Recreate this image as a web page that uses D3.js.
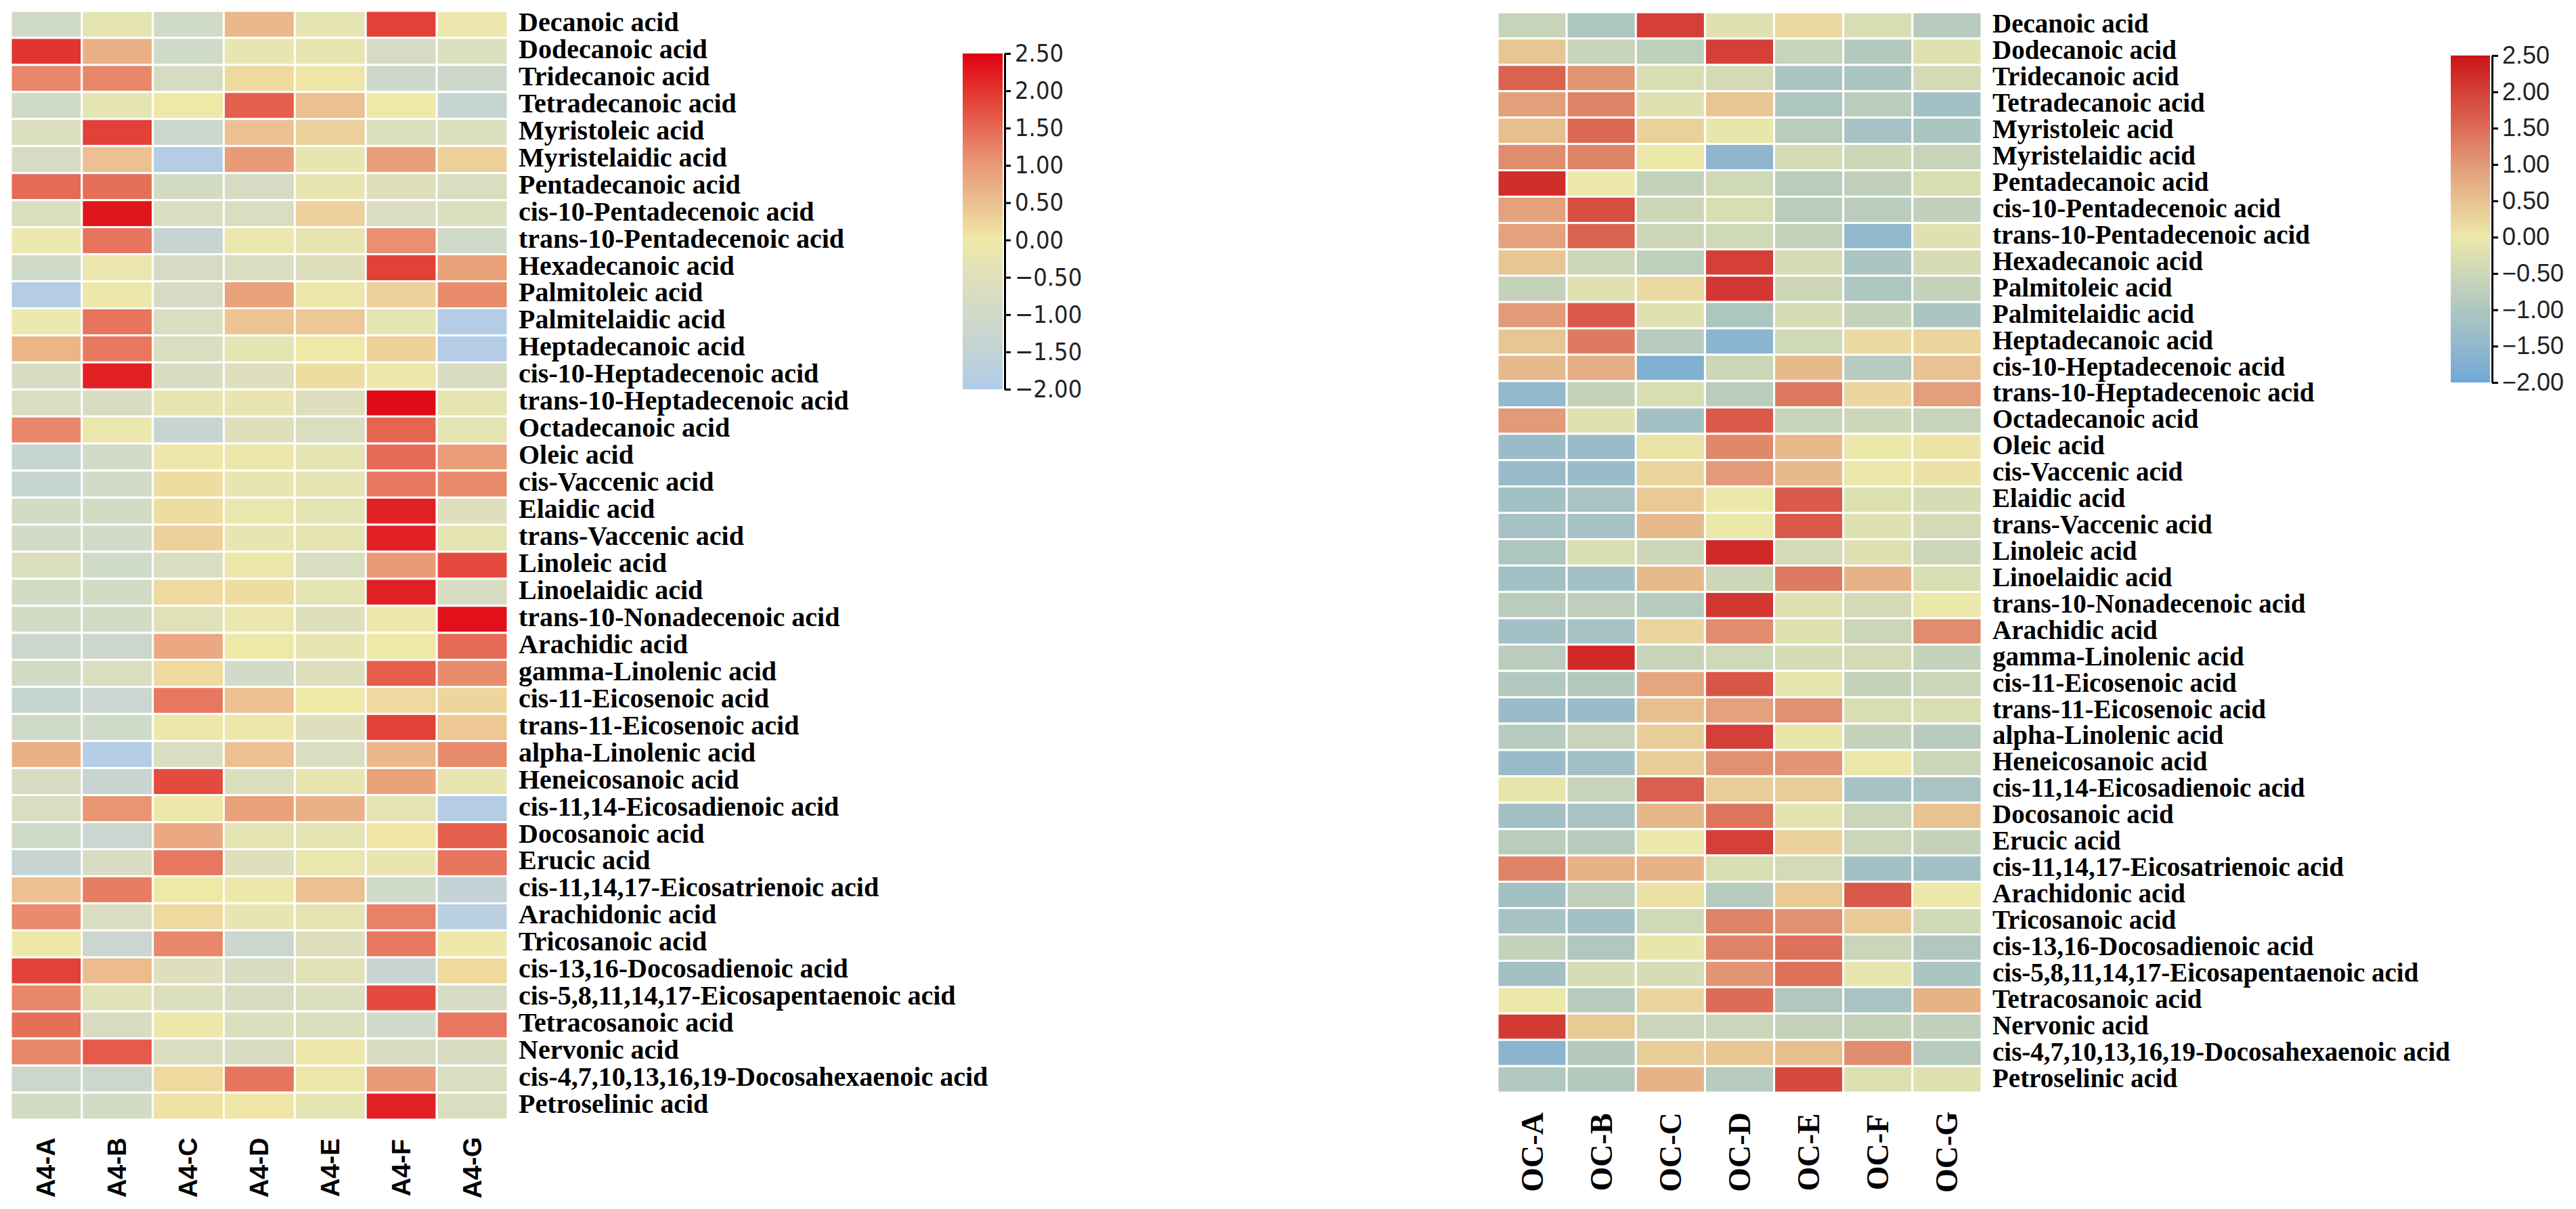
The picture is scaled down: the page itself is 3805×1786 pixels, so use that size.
<!DOCTYPE html>
<html>
<head>
<meta charset="utf-8">
<title>Fatty acid heatmaps</title>
<script src="https://d3js.org/d3.v7.min.js"></script>
<style>
  body { margin: 0; background: #fff; }
</style>
</head>
<body>
<script>
// row names (same order in both panels)
var acids = ["Decanoic acid", "Dodecanoic acid", "Tridecanoic acid", "Tetradecanoic acid",
  "Myristoleic acid", "Myristelaidic acid", "Pentadecanoic acid", "cis-10-Pentadecenoic acid",
  "trans-10-Pentadecenoic acid", "Hexadecanoic acid", "Palmitoleic acid", "Palmitelaidic acid",
  "Heptadecanoic acid", "cis-10-Heptadecenoic acid", "trans-10-Heptadecenoic acid", "Octadecanoic acid",
  "Oleic acid", "cis-Vaccenic acid", "Elaidic acid", "trans-Vaccenic acid", "Linoleic acid",
  "Linoelaidic acid", "trans-10-Nonadecenoic acid", "Arachidic acid", "gamma-Linolenic acid",
  "cis-11-Eicosenoic acid", "trans-11-Eicosenoic acid", "alpha-Linolenic acid", "Heneicosanoic acid",
  "cis-11,14-Eicosadienoic acid", "Docosanoic acid", "Erucic acid", "cis-11,14,17-Eicosatrienoic acid",
  "Arachidonic acid", "Tricosanoic acid", "cis-13,16-Docosadienoic acid",
  "cis-5,8,11,14,17-Eicosapentaenoic acid", "Tetracosanoic acid", "Nervonic acid",
  "cis-4,7,10,13,16,19-Docosahexaenoic acid", "Petroselinic acid"]

var a4Samples = ["A4-A", "A4-B", "A4-C", "A4-D", "A4-E", "A4-F", "A4-G"]
var ocSamples = ["OC-A", "OC-B", "OC-C", "OC-D", "OC-E", "OC-F", "OC-G"]

// z-scores, one row per acid, one column per sample
var a4Values = [
  [-1.0, -0.3, -1.0, 0.6, -0.3, 1.9, -0.1],
  [2.0, 0.7, -1.0, -0.2, -0.2, -0.8, -0.6],
  [1.2, 1.2, -0.8, 0.2, 0.05, -1.1, -1.1],
  [-1.0, -0.3, 0.0, 1.6, 0.5, 0.0, -1.4],
  [-0.6, 1.9, -1.2, 0.5, 0.3, -0.6, -0.6],
  [-0.8, 0.5, -1.9, 1.0, -0.2, 0.95, 0.3],
  [1.5, 1.45, -0.9, -0.8, -0.2, -0.5, -0.7],
  [-0.6, 2.3, -0.7, -0.7, 0.3, -0.7, -0.6],
  [-0.1, 1.4, -1.4, -0.15, -0.2, 1.1, -1.0],
  [-1.0, -0.15, -0.8, -0.7, -0.55, 1.9, 0.9],
  [-1.9, -0.05, -0.8, 0.9, -0.05, 0.3, 1.15],
  [-0.1, 1.4, -0.7, 0.45, 0.4, -0.3, -1.9],
  [0.65, 1.35, -0.7, -0.3, 0.0, 0.3, -1.9],
  [-0.75, 2.2, -0.75, -0.55, 0.15, -0.05, -0.75],
  [-0.7, -0.75, -0.2, -0.2, -0.55, 2.4, -0.3],
  [1.2, -0.1, -1.4, -0.55, -0.7, 1.55, -0.3],
  [-1.4, -0.95, -0.05, -0.05, -0.3, 1.5, 0.95],
  [-1.4, -0.95, 0.15, -0.2, -0.3, 1.35, 1.15],
  [-0.9, -0.9, 0.15, -0.15, -0.3, 2.2, -0.55],
  [-0.95, -0.95, 0.3, -0.2, -0.3, 2.2, -0.3],
  [-0.6, -1.0, -0.7, -0.05, -0.7, 1.0, 1.8],
  [-0.9, -0.9, 0.2, 0.15, -0.3, 2.2, -0.75],
  [-0.9, -0.9, -0.45, -0.1, -0.55, -0.05, 2.35],
  [-1.2, -1.2, 0.8, 0.0, -0.2, 0.0, 1.5],
  [-0.9, -0.7, 0.2, -0.95, -0.55, 1.6, 1.15],
  [-1.4, -1.25, 1.35, 0.5, 0.0, 0.2, 0.25],
  [-1.0, -1.0, -0.05, -0.05, -0.55, 1.9, 0.4],
  [0.7, -1.9, -0.7, 0.5, -0.7, 0.6, 1.15],
  [-0.75, -1.35, 1.8, -0.6, -0.2, 0.9, -0.2],
  [-0.7, 1.05, -0.05, 0.9, 0.7, -0.35, -1.9],
  [-1.0, -1.25, 0.8, -0.3, -0.3, 0.05, 1.6],
  [-1.4, -0.75, 1.35, -0.55, -0.15, -0.2, 1.4],
  [0.5, 1.3, 0.0, -0.05, 0.5, -1.0, -1.5],
  [1.15, -0.7, 0.2, -0.2, -0.3, 1.25, -1.75],
  [-0.05, -1.25, 1.2, -1.25, -0.55, 1.35, -0.05],
  [1.9, 0.55, -0.55, -0.75, -0.4, -1.35, 0.2],
  [1.2, -0.4, -0.6, -0.75, -0.6, 1.8, -0.8],
  [1.45, -0.75, -0.05, -0.6, -0.6, -1.0, 1.35],
  [1.2, 1.65, -0.7, -0.75, -0.05, -0.75, -0.75],
  [-1.2, -1.2, 0.2, 1.4, -0.05, 1.0, -0.7],
  [-0.9, -0.9, 0.1, 0.05, -0.3, 2.2, -0.7]
]

var ocValues = [
  [-0.6, -1.0, 2.0, -0.2, 0.2, -0.3, -0.85],
  [0.45, -0.6, -0.75, 2.0, -0.6, -0.9, -0.2],
  [1.6, 1.05, -0.3, -0.4, -1.05, -1.05, -0.4],
  [0.95, 1.25, -0.2, 0.45, -1.0, -0.8, -1.2],
  [0.55, 1.55, 0.3, -0.05, -0.8, -1.15, -1.05],
  [1.15, 1.25, 0.0, -1.55, -0.4, -0.5, -0.6],
  [2.2, 0.0, -0.65, -0.45, -0.8, -0.7, -0.3],
  [0.9, 1.85, -0.5, -0.3, -0.8, -0.8, -0.7],
  [0.9, 1.6, -0.5, -0.45, -0.65, -1.5, -0.2],
  [0.45, -0.5, -0.75, 2.0, -0.35, -1.05, -0.35],
  [-0.65, -0.2, 0.2, 2.1, -0.5, -1.0, -0.65],
  [1.0, 1.7, -0.2, -1.0, -0.35, -0.65, -1.05],
  [0.45, 1.35, -0.85, -1.6, -0.45, 0.2, 0.25],
  [0.6, 0.75, -1.75, -0.5, 0.6, -0.85, 0.5],
  [-1.5, -0.65, -0.3, -0.8, 1.35, 0.25, 0.95],
  [1.0, -0.2, -1.2, 1.7, -0.6, -0.5, -0.6],
  [-1.35, -1.35, 0.05, 1.2, 0.6, 0.0, 0.05],
  [-1.4, -1.35, 0.25, 1.0, 0.6, 0.0, 0.1],
  [-1.2, -1.1, 0.4, 0.0, 1.7, -0.25, -0.35],
  [-1.15, -1.15, 0.6, 0.0, 1.7, -0.2, -0.4],
  [-1.0, -0.3, -0.5, 2.25, -0.4, -0.25, -0.5],
  [-1.2, -1.2, 0.6, -0.5, 1.35, 0.7, -0.3],
  [-0.8, -0.75, -0.85, 2.1, -0.25, -0.4, 0.0],
  [-1.2, -1.15, 0.25, 1.15, -0.2, -0.55, 1.15],
  [-0.8, 2.25, -0.6, -0.45, -0.35, -0.4, -0.65],
  [-0.95, -0.9, 0.85, 1.75, -0.1, -0.65, -0.55],
  [-1.35, -1.35, 0.55, 0.9, 1.1, -0.3, -0.3],
  [-0.85, -0.6, 0.35, 2.0, -0.05, -0.65, -0.85],
  [-1.35, -1.2, 0.35, 1.1, 1.05, 0.0, -0.55],
  [-0.05, -0.6, 1.65, 0.35, 0.35, -1.15, -1.1],
  [-1.2, -1.1, 0.65, 1.4, -0.15, -0.55, 0.5],
  [-0.8, -0.85, 0.0, 2.0, 0.3, -0.55, -0.65],
  [1.25, 0.7, 0.7, -0.3, -0.4, -1.2, -1.2],
  [-1.2, -0.7, 0.1, -0.85, 0.4, 1.7, 0.0],
  [-1.15, -1.2, -0.45, 1.25, 1.1, 0.4, -0.45],
  [-0.65, -0.95, -0.05, 1.25, 1.45, -0.55, -0.95],
  [-1.2, -0.35, -0.35, 1.05, 1.45, -0.1, -1.05],
  [0.0, -0.85, 0.25, 1.5, -0.95, -1.1, 0.7],
  [2.05, 0.4, -0.55, -0.55, -0.65, -0.65, -0.7],
  [-1.6, -0.9, 0.35, 0.45, 0.55, 1.15, -0.85],
  [-0.95, -0.9, 0.7, -0.85, 1.9, -0.25, -0.2]
]

// colour bar ticks
var legendTicks = [2.5, 2.0, 1.5, 1.0, 0.5, 0.0, -0.5, -1.0, -1.5, -2.0]
var colorStops = [-2, -1.5, -1, -0.5, 0, 0.5, 1, 1.5, 2, 2.5]

var width = 3805
var height = 1786

var svg = d3.select("body").append("svg")
  .attr("width", width)
  .attr("height", height)
  .style("background", "#fff")

// two panels, slightly different palettes
var panels = [
  {
    samples: a4Samples, values: a4Values,
    x0: 16, x1: 750, y0: 16, y1: 1654,
    labelX: 766, labelSize: 40, labelDy: 10,
    colFont: "'Liberation Sans', Arial, sans-serif", colSize: 38, colY: 1725,
    colors: ["#b0cce8", "#c3d2d5", "#d0dac8", "#dfe0bb", "#efe9a8", "#ecc090", "#e99a76", "#e66a55", "#e2352f", "#e00010"],
    bar: {x: 1422, w: 59, y0: 79, y1: 575},
    tickFont: "'DejaVu Sans Condensed', 'Liberation Sans Narrow', 'Liberation Sans', sans-serif", tickSize: 36
  },
  {
    samples: ocSamples, values: ocValues,
    x0: 2212, x1: 2927, y0: 18, y1: 1614,
    labelX: 2943, labelSize: 39, labelDy: 11,
    colFont: "'Liberation Serif', 'Times New Roman', serif", colSize: 46, colY: 1702,
    colors: ["#70a8d8", "#92b8cc", "#aec6c0", "#cdd7b8", "#ece8aa", "#e8c290", "#e29a78", "#dc6c56", "#d44038", "#cc1418"],
    bar: {x: 3620, w: 58, y0: 82, y1: 565},
    tickFont: "'Liberation Sans', Arial, sans-serif", tickSize: 36
  }
]

var defs = svg.append("defs")

panels.forEach(function(p, pi) {
  var x = d3.scaleBand().domain(p.samples).range([p.x0, p.x1])
  var y = d3.scaleBand().domain(acids).range([p.y0, p.y1])
  var color = d3.scaleLinear().domain(colorStops).range(p.colors).clamp(true)

  var cells = []
  acids.forEach(function(a, i) {
    p.samples.forEach(function(s, j) {
      cells.push({acid: a, sample: s, value: p.values[i][j]})
    })
  })

  var g = svg.append("g")

  g.selectAll("rect.cell")
    .data(cells)
    .enter()
    .append("rect")
      .attr("class", "cell")
      .attr("x", d => x(d.sample))
      .attr("y", d => y(d.acid))
      .attr("width", x.bandwidth())
      .attr("height", y.bandwidth())
      .attr("fill", d => color(d.value))
      .attr("stroke", "#fff")
      .attr("stroke-width", 3)

  // row labels
  g.selectAll("text.row")
    .data(acids)
    .enter()
    .append("text")
      .attr("class", "row")
      .attr("x", p.labelX)
      .attr("y", d => y(d) + y.bandwidth() / 2 + p.labelDy)
      .attr("font-family", "'Liberation Serif', 'Times New Roman', serif")
      .attr("font-weight", "bold")
      .attr("font-size", p.labelSize)
      .attr("fill", "#000")
      .text(d => d)

  // column labels, rotated
  g.selectAll("text.col")
    .data(p.samples)
    .enter()
    .append("text")
      .attr("class", "col")
      .attr("transform", d => "translate(" + (x(d) + x.bandwidth() / 2) + "," + p.colY + ") rotate(-90)")
      .attr("text-anchor", "middle")
      .attr("dominant-baseline", "central")
      .attr("font-family", p.colFont)
      .attr("font-weight", "bold")
      .attr("font-size", p.colSize)
      .attr("fill", "#000")
      .text(d => d)

  // colour bar
  var grad = defs.append("linearGradient")
    .attr("id", "grad" + pi)
    .attr("x1", 0).attr("y1", 1).attr("x2", 0).attr("y2", 0)
  colorStops.forEach(function(v, k) {
    grad.append("stop")
      .attr("offset", (v - colorStops[0]) / (colorStops[colorStops.length - 1] - colorStops[0]))
      .attr("stop-color", p.colors[k])
  })

  var legendScale = d3.scaleLinear().domain([-2, 2.5]).range([p.bar.y1, p.bar.y0])

  g.append("rect")
    .attr("x", p.bar.x)
    .attr("y", p.bar.y0)
    .attr("width", p.bar.w)
    .attr("height", p.bar.y1 - p.bar.y0)
    .attr("fill", "url(#grad" + pi + ")")

  var axis = g.append("g")
    .attr("transform", "translate(" + (p.bar.x + p.bar.w + 3) + ",0)")
    .call(d3.axisRight(legendScale).tickValues(legendTicks).tickFormat(d3.format(".2f")).tickSize(9).tickSizeOuter(0).tickPadding(6))
  axis.select(".domain").attr("stroke", "#000").attr("stroke-width", 3)
  axis.selectAll(".tick line").attr("stroke", "#000").attr("stroke-width", 3)
  axis.selectAll(".tick text")
    .attr("font-family", p.tickFont)
    .attr("font-size", p.tickSize)
    .attr("fill", "#222")
})
</script>
</body>
</html>
